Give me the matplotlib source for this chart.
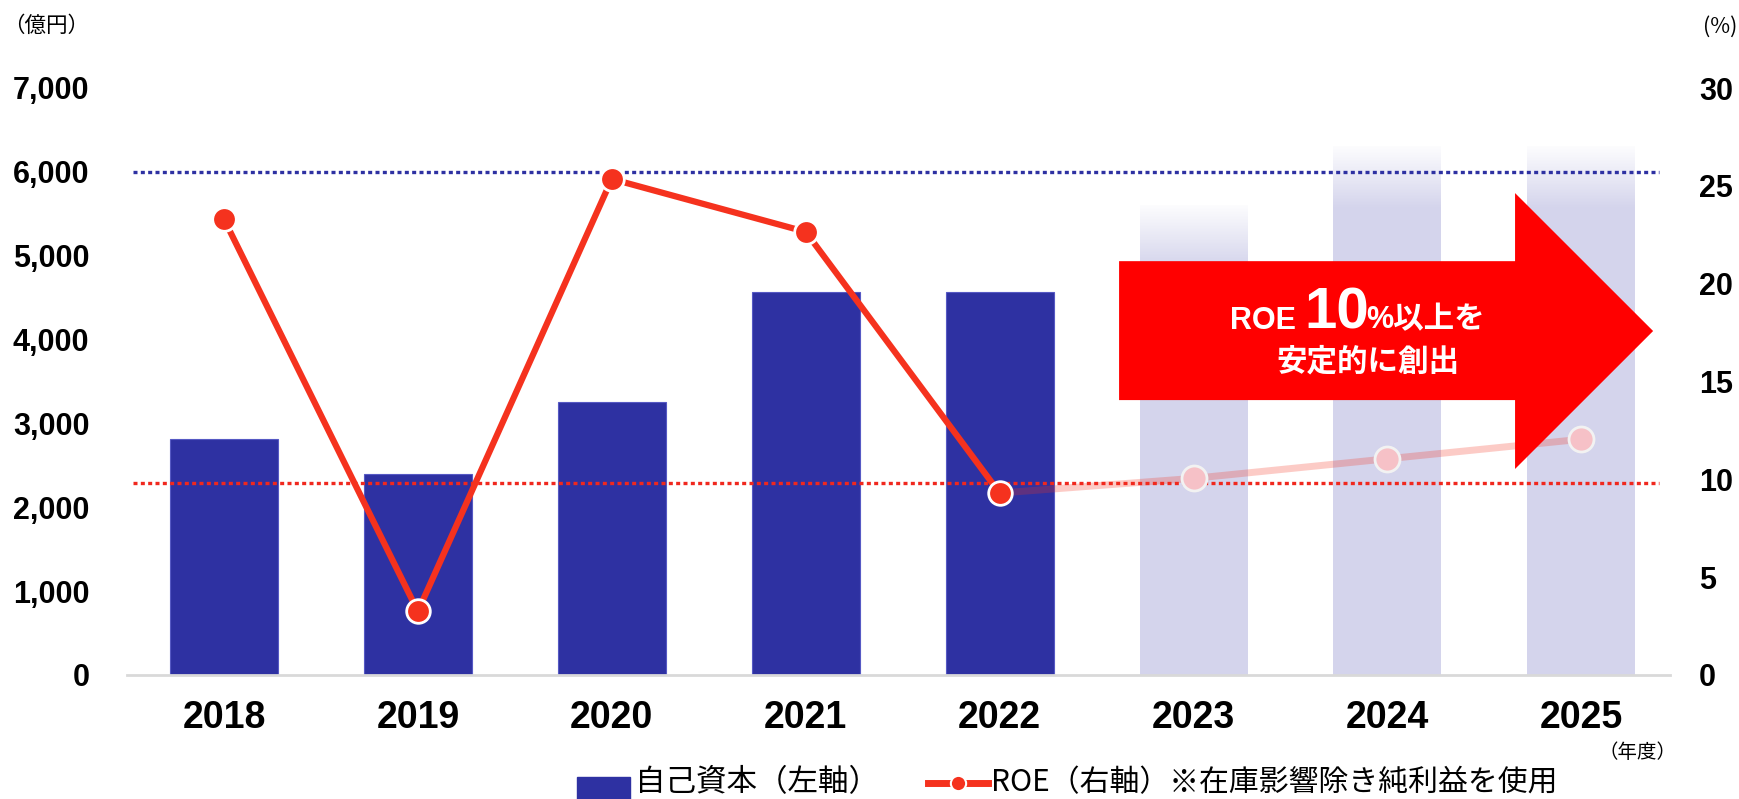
import numpy as np
import matplotlib.pyplot as plt
from matplotlib.patches import Polygon, Rectangle
from matplotlib.lines import Line2D

# data
years = ['2018', '2019', '2020', '2021', '2022', '2023', '2024', '2025']
equity = [2810, 2400, 3260, 4570, 4570, 5600, 6310, 6310]      # 自己資本 (億円)
roe = [23.3, 3.25, 25.35, 22.65, 9.3, 10.05, 11.05, 12.05]    # ROE (%)
n_actual = 5          # 2018-2022 actual, 2023-2025 plan
equity_line = 6000
roe_line = 9.8

BLUE = '#2E31A2'
LAVENDER = '#D4D4EC'
RED = '#F5321E'
CJK = ['Noto Sans CJK JP', 'DejaVu Sans']

plt.rcParams['font.family'] = ['Liberation Sans', 'Noto Sans CJK JP']

W, H = 1740, 799
fig = plt.figure(figsize=(W / 100, H / 100), dpi=100)
ax = fig.add_axes([127 / W, 1 - 675 / H, (1670 - 127) / W, (675 - 88) / H])
ax2 = ax.twinx()

x = np.arange(len(years))
w = 0.557

# bars
ax.bar(x[:n_actual], equity[:n_actual], width=w, color=BLUE,
       edgecolor='#5659C4', linewidth=0.8, zorder=2)
fut = ax.bar(x[n_actual:], equity[n_actual:], width=w, color=LAVENDER, zorder=2)

# white fade on top of the plan bars
fade = np.ones((64, 1, 4))
fade[:, 0, 3] = np.linspace(0.95, 0, 64)
for b in fut:
    x0, top = b.get_x(), b.get_height()
    ax.imshow(fade, extent=[x0, x0 + b.get_width(), top - 750, top],
              aspect='auto', interpolation='bilinear', zorder=3)

# target lines
ax.axhline(equity_line, xmin=0.004, xmax=0.993, color=BLUE, lw=2.4,
           ls=(0, (1.2, 1.0)), zorder=4)
ax2.axhline(roe_line, xmin=0.004, xmax=0.993, color='#F0281E', lw=2.4,
            ls=(0, (1.2, 1.0)), zorder=1)

# ROE
ax2.plot(x[n_actual - 1:], roe[n_actual - 1:], color=RED, alpha=0.25, lw=5,
         solid_capstyle='butt', zorder=2)
ax2.plot(x[n_actual:], roe[n_actual:], ls='none', marker='o', ms=18,
         mfc='#F6C1C7', mec='#F2F2F2', mew=2, zorder=2)
ax2.plot(x[:n_actual], roe[:n_actual], color=RED, lw=4.5, marker='o', ms=17,
         mfc=RED, mec='white', mew=2, zorder=3)

# arrow
arrow = Polygon([(4.616, 21.15), (6.658, 21.15), (6.658, 24.63), (7.37, 17.58),
                 (6.658, 10.53), (6.658, 14.05), (4.616, 14.05)],
                closed=True, facecolor='#FF0000', lw=0, zorder=4)
ax2.add_patch(arrow)
t1 = ax2.text(5.19, 17.7, 'ROE', color='white', fontsize=22,
              fontweight='bold', va='baseline', ha='left', zorder=5)
t2 = ax2.annotate('10', xy=(1, 17.7), xycoords=(t1, 'data'), xytext=(6, 0),
                  textcoords='offset points', color='white', fontsize=42,
                  fontweight='bold', va='baseline', ha='left', zorder=5)
ax2.annotate('%以上を', xy=(1, 17.7), xycoords=(t2, 'data'), xytext=(-2, 0),
             textcoords='offset points', color='white', fontsize=22,
             fontweight='bold', va='baseline', ha='left', zorder=5)
ax2.text(5.90, 16.0, '安定的に創出', color='white', fontsize=22,
         fontweight='bold', family=CJK, ha='center', va='center', zorder=5)

# axes
ax.set_xlim(-0.5, 7.457)
ax.set_ylim(0, 7000)
ax2.set_ylim(0, 30)
ax.set_xticks(x, years)
ax.set_yticks(range(0, 7001, 1000))
ax.yaxis.set_major_formatter(lambda v, p: f'{int(v):,}')
ax2.set_yticks(range(0, 31, 5))
ax.tick_params(axis='x', length=0, pad=18, labelsize=27)
ax.tick_params(axis='y', length=0, pad=27, labelsize=22)
ax2.tick_params(axis='y', length=0, pad=21, labelsize=22)
for lab in ax.get_xticklabels() + ax.get_yticklabels() + ax2.get_yticklabels():
    lab.set_fontweight('bold')
for a in (ax, ax2):
    for s in a.spines.values():
        s.set_visible(False)
ax.spines['bottom'].set_visible(True)
ax.spines['bottom'].set_color('#D9D9D9')
ax.spines['bottom'].set_linewidth(2)

# units
fig.text(46 / W, 1 - 26 / H, '（億円）', ha='center', va='center', fontsize=15.5, family=CJK)
fig.text(1737 / W, 1 - 27 / H, '(%)', ha='right', va='center', fontsize=15.5, family=CJK)
fig.text(1638 / W, 1 - 752 / H, '（年度）', ha='center', va='center', fontsize=14, family=CJK)

# legend
ly = 1 - 783 / H
fig.add_artist(Rectangle((577 / W, -0.02), 53 / W, 0.02 + 1 - 777 / H,
                         transform=fig.transFigure, color=BLUE))
fig.text(635 / W, ly, '自己資本（左軸）', va='center', fontsize=22, family=CJK)
fig.add_artist(Line2D([928 / W, 988 / W], [ly, ly], color=RED, lw=5))
fig.add_artist(Line2D([958 / W], [ly], marker='o', ms=11, color=RED,
                      mec='white', mew=1.5))
fig.text(991 / W, ly, 'ROE（右軸）※在庫影響除き純利益を使用', va='center',
         fontsize=21.5, family=CJK)

fig.savefig('out.png', dpi=100)
